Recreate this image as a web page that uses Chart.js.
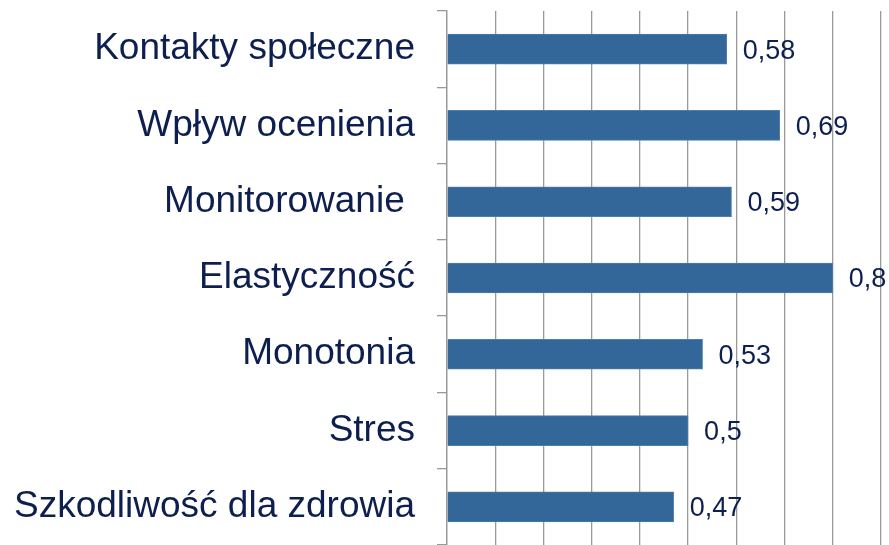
<!DOCTYPE html>
<html>
<head>
<meta charset="utf-8">
<script src="https://cdn.jsdelivr.net/npm/chart.js@4"></script>
<style>
  html, body { margin: 0; padding: 0; background: #fff; overflow: hidden; }
  #wrap { position: relative; width: 889px; height: 545px; }
</style>
</head>
<body>
<div id="wrap"><canvas id="barChart"></canvas></div>
<script>
const categories = [
  'Kontakty społeczne',
  'Wpływ ocenienia',
  'Monitorowanie ',
  'Elastyczność',
  'Monotonia',
  'Stres',
  'Szkodliwość dla zdrowia'
];
const values = [0.58, 0.69, 0.59, 0.8, 0.53, 0.5, 0.47];
const valueLabels = ['0,58', '0,69', '0,59', '0,8', '0,53', '0,5', '0,47'];

// draws the numbers to the right of each bar
const valueLabelPlugin = {
  id: 'valueLabels',
  afterDatasetsDraw(chart) {
    const ctx = chart.ctx;
    const meta = chart.getDatasetMeta(0);
    ctx.save();
    ctx.font = '27px "Liberation Sans", Arial, sans-serif';
    ctx.fillStyle = '#0d1f4f';
    ctx.textAlign = 'left';
    ctx.textBaseline = 'middle';
    meta.data.forEach((bar, i) => {
      ctx.fillText(valueLabels[i], bar.x + 16, bar.y + 2);
    });
    ctx.restore();
  }
};

const barCtx = document.getElementById('barChart').getContext('2d');

new Chart(barCtx, {
  type: 'bar',
  data: {
    labels: categories,
    datasets: [{
      data: values,
      backgroundColor: '#336699',
      borderColor: '#4d7fae',
      borderWidth: 1,
      barThickness: 30
    }]
  },
  options: {
    indexAxis: 'y',
    responsive: true,
    maintainAspectRatio: false,
    animation: false,
    layout: {
      padding: { top: 11, right: 8, bottom: 0, left: 0 }
    },
    plugins: {
      legend: { display: false },
      tooltip: { enabled: false }
    },
    scales: {
      x: {
        min: 0,
        max: 0.9,
        ticks: { display: false, stepSize: 0.1 },
        grid: { color: '#999999', lineWidth: 1.3, drawTicks: false },
        border: { display: false },
        afterFit(scale) { scale.height = 0; }
      },
      y: {
        ticks: {
          color: '#0d1f4f',
          font: { family: '"Liberation Sans", Arial, sans-serif', size: 37 },
          padding: 22
        },
        grid: { drawOnChartArea: false, color: '#999999', lineWidth: 1.3, tickLength: 10 },
        border: { color: '#999999', width: 1.3 },
        afterFit(scale) {
          scale.width = 447;
          scale.paddingTop = 0;
          scale.paddingBottom = 0;
        }
      }
    }
  },
  plugins: [valueLabelPlugin]
});
</script>
</body>
</html>
